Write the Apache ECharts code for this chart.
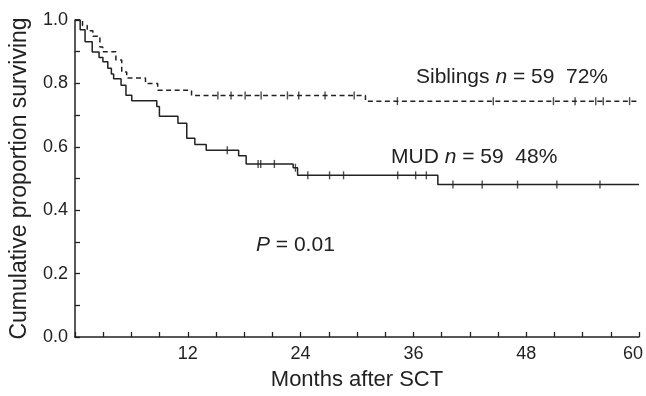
<!DOCTYPE html>
<html>
<head>
<meta charset="utf-8">
<script src="https://cdn.jsdelivr.net/npm/echarts/dist/echarts.min.js"></script>
<style>
  html, body { margin: 0; padding: 0; background: #fff; overflow: hidden; width: 646px; height: 396px; }
  #chart { position: absolute; left: 0; top: 0; width: 646px; height: 396px; overflow: hidden; }
</style>
</head>
<body>
<div id="chart"></div>
<script>
// Kaplan-Meier steps (months, proportion surviving)
const mudTimes = [0, 0.55, 1.07, 1.83, 2.56, 2.97, 3.49, 3.87, 4.11, 4.90, 5.42, 6.04, 8.70, 8.98, 10.95, 11.89, 12.75, 13.96, 17.41, 18.21, 23.21, 23.68, 38.60];
const mudSurv = [1.0, 0.969, 0.931, 0.899, 0.882, 0.868, 0.848, 0.830, 0.815, 0.794, 0.763, 0.745, 0.727, 0.696, 0.674, 0.627, 0.607, 0.589, 0.572, 0.546, 0.534, 0.510, 0.481];
const mudCensored = [16.2, 19.48, 19.76, 21.21, 23.45, 24.77, 27.08, 28.57, 34.33, 36.24, 37.38, 40.21, 43.32, 47.08, 51.26, 55.85];

const sibTimes = [0, 0.8, 1.3, 1.9, 2.65, 2.95, 4.35, 4.97, 5.5, 7.5, 8.8, 12.4, 30.9];
const sibSurv = [1.0, 0.983, 0.966, 0.949, 0.915, 0.900, 0.874, 0.836, 0.817, 0.800, 0.778, 0.762, 0.744];
const sibCensored = [15.2, 16.6, 18.1, 19.8, 22.6, 23.8, 26.6, 29.7, 34.3, 44.5, 50.9, 53.2, 55.4, 56.2, 59.0];

const xMax = 60;
const xStep = 12;
const yStep = 0.2;

const FONT = '"Liberation Sans", Arial, Helvetica, sans-serif';
const INK = '#222';

function survAt(times, surv, t) {
  let v = surv[0];
  for (let i = 0; i < times.length; i++) {
    if (times[i] <= t) v = surv[i];
  }
  return v;
}

function curve(times, surv) {
  const pts = times.map((t, i) => [t, surv[i]]);
  pts.push([xMax, surv[surv.length - 1]]);
  return pts;
}

function censorPts(times, surv, cens) {
  return cens.map(t => [t, survAt(times, surv, t)]);
}

const chart = echarts.init(document.getElementById('chart'), null, { width: 646, height: 396 });

const option = {
  animation: false,
  backgroundColor: '#fff',
  grid: { left: 72, right: -5, top: 20, bottom: 52 },
  xAxis: {
    type: 'value',
    min: 0,
    max: xMax,
    interval: xStep,
    name: 'Months after SCT',
    nameLocation: 'middle',
    nameGap: 32,
    nameTextStyle: { fontFamily: FONT, fontSize: 22, color: INK },
    axisLine: { lineStyle: { color: INK, width: 1.5 } },
    axisTick: { inside: true, length: 5, lineStyle: { color: INK, width: 1.3 } },
    minorTick: { show: true, splitNumber: 4, length: 5, lineStyle: { color: INK, width: 1.3 } },
    splitLine: { show: false },
    axisLabel: {
      fontFamily: FONT, fontSize: 18, color: INK, margin: 8,
      formatter: v => (v === 0 ? '' : (v === xMax ? '{r|' + v + '}' : String(v))),
      rich: { r: { fontFamily: FONT, fontSize: 18, color: INK, padding: [0, 12, 0, 0] } }
    }
  },
  yAxis: {
    type: 'value',
    min: 0,
    max: 1,
    interval: yStep,
    offset: 1,
    name: 'Cumulative proportion surviving',
    nameLocation: 'middle',
    nameGap: 43,
    nameTextStyle: { fontFamily: FONT, fontSize: 23, color: INK },
    axisLine: { show: true, lineStyle: { color: INK, width: 1.5 } },
    axisTick: { show: true, inside: true, length: 5, lineStyle: { color: INK, width: 1.3 } },
    minorTick: { show: true, splitNumber: 2, length: 5, lineStyle: { color: INK, width: 1.3 } },
    splitLine: { show: false },
    axisLabel: {
      fontFamily: FONT, fontSize: 18, color: INK, margin: 6,
      formatter: v => v.toFixed(1)
    }
  },
  series: [
    {
      name: 'MUD',
      type: 'line',
      step: 'end',
      showSymbol: false,
      clip: false,
      data: curve(mudTimes, mudSurv),
      lineStyle: { color: INK, width: 1.5 }
    },
    {
      name: 'Siblings',
      type: 'line',
      step: 'end',
      showSymbol: false,
      clip: false,
      data: curve(sibTimes, sibSurv),
      lineStyle: { color: INK, width: 1.5, type: [5, 3.5] }
    },
    {
      type: 'scatter',
      symbol: 'rect',
      symbolSize: [1.4, 8],
      data: censorPts(mudTimes, mudSurv, mudCensored),
      itemStyle: { color: INK }
    },
    {
      type: 'scatter',
      symbol: 'rect',
      symbolSize: [1.4, 8],
      data: censorPts(sibTimes, sibSurv, sibCensored),
      itemStyle: { color: INK }
    }
  ],
  graphic: [
    {
      type: 'text', left: 416, top: 67,
      style: {
        text: 'Siblings {i|n} = 59  72%',
        font: '21px ' + FONT, fill: INK,
        rich: { i: { fontStyle: 'italic', fontFamily: FONT, fontSize: 21, fill: INK } }
      }
    },
    {
      type: 'text', left: 391, top: 147,
      style: {
        text: 'MUD {i|n} = 59  48%',
        font: '21px ' + FONT, fill: INK,
        rich: { i: { fontStyle: 'italic', fontFamily: FONT, fontSize: 21, fill: INK } }
      }
    },
    {
      type: 'text', left: 256, top: 235,
      style: {
        text: '{i|P} = 0.01',
        font: '21px ' + FONT, fill: INK,
        rich: { i: { fontStyle: 'italic', fontFamily: FONT, fontSize: 21, fill: INK } }
      }
    }
  ]
};

chart.setOption(option);
</script>
</body>
</html>
